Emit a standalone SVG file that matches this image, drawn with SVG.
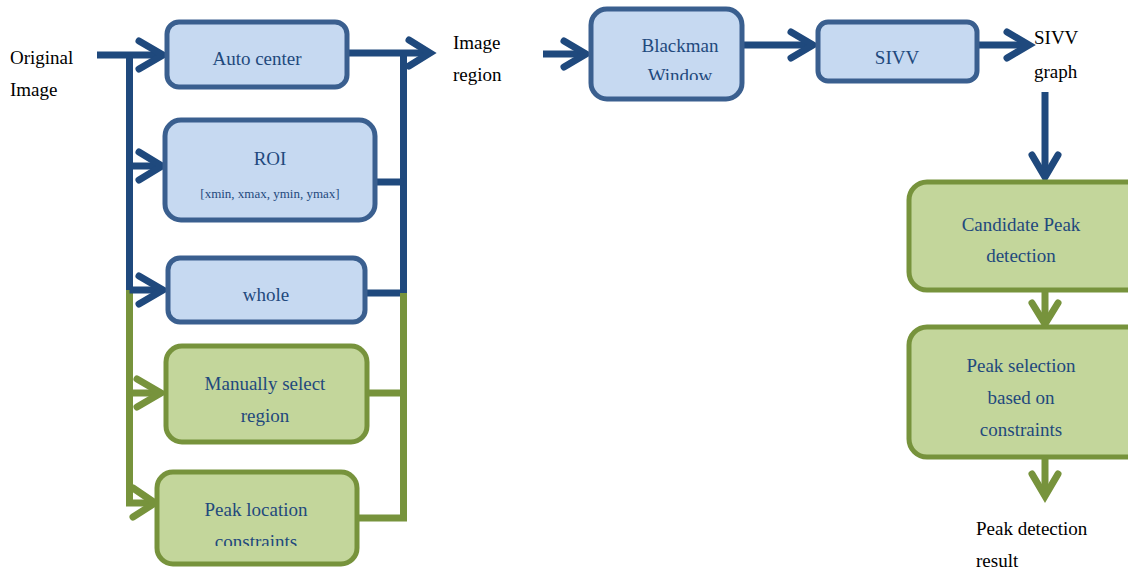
<svg xmlns="http://www.w3.org/2000/svg" width="1128" height="571" viewBox="0 0 1128 571" font-family="Liberation Serif, serif">
<style>
.bb{fill:#c6d9f1;stroke:#3a5f8f;stroke-width:5}
.gb{fill:#c3d69b;stroke:#77933c;stroke-width:5}
.t{font-size:19px;fill:#1f497d;text-anchor:middle}
.k{font-size:19px;fill:#000}
.s{font-size:13px;fill:#1f497d;text-anchor:middle}
.cb{fill:none;stroke:#1f497d;stroke-width:7}
.cg{fill:none;stroke:#77933c;stroke-width:7}
.hb{fill:none;stroke:#1f497d;stroke-width:7;stroke-linecap:round;stroke-linejoin:miter}
.hg{fill:none;stroke:#77933c;stroke-width:7;stroke-linecap:round;stroke-linejoin:miter}
</style>
<defs>
<clipPath id="c1"><rect x="157" y="472" width="200" height="74"/></clipPath>
<clipPath id="c2"><rect x="591" y="8" width="151" height="72"/></clipPath>
</defs>
<g id="connectors">
<path class="cb" d="M97 55H160"/>
<path class="cb" d="M129.5 55V290"/>
<path class="cg" d="M129.5 290V503H155"/>
<path class="cb" d="M129.5 166H160M129.5 290H162"/>
<path class="cg" d="M129.5 393H160"/>
<polyline class="hb" points="139,41 163,55 139,69"/>
<polyline class="hb" points="139,152 162,166 139,180"/>
<polyline class="hb" points="139,276 163,290 139,304"/>
<polyline class="hg" points="137,379 161,393 137,407"/>
<polyline class="hg" points="133,488 155,503 133,517"/>
<path class="cb" d="M347 53H430M403.5 53V293"/>
<path class="cb" d="M375 182H403.5M365 293H403.5"/>
<path class="cg" d="M403.5 293V518H357M367 393H403.5"/>
<polyline class="hb" points="409,40 430,53 409,66"/>
<path class="cb" d="M543 54H585"/>
<polyline class="hb" points="564,41 586,54 564,67"/>
<path class="cb" d="M742 45H812"/>
<polyline class="hb" points="791,32 813,45 791,58"/>
<path class="cb" d="M977 45H1028"/>
<polyline class="hb" points="1007,32 1029,45 1007,58"/>
<path class="cb" d="M1045 92V175"/>
<polyline class="hb" points="1032,155 1045,177 1058,155"/>
<path class="cg" d="M1045 290V322"/>
<polyline class="hg" points="1032,303 1045,324 1058,303"/>
<path class="cg" d="M1045 457V495"/>
<polyline class="hg" points="1032,474 1045,496 1058,474"/>
</g>
<g id="original-image"><text class="k" x="10" y="64">Original</text><text class="k" x="10" y="96">Image</text></g>
<g id="auto-center"><rect class="bb" x="167" y="22" width="180" height="65" rx="12"/><text class="t" x="257" y="65">Auto center</text></g>
<g id="roi"><rect class="bb" x="165" y="120" width="210" height="100" rx="16"/><text class="t" x="270" y="165">ROI</text><text class="s" x="270" y="198">[xmin, xmax, ymin, ymax]</text></g>
<g id="whole"><rect class="bb" x="168" y="258" width="197" height="64" rx="12"/><text class="t" x="266" y="301">whole</text></g>
<g id="manual"><rect class="gb" x="166" y="346" width="201" height="96" rx="16"/><text class="t" x="265" y="390">Manually select</text><text class="t" x="265" y="422">region</text></g>
<g id="peak-location"><rect class="gb" x="157" y="472" width="200" height="92" rx="16"/><text class="t" x="256" y="516">Peak location</text><text class="t" x="256" y="548" clip-path="url(#c1)">constraints</text></g>
<g id="image-region"><text class="k" x="453" y="49">Image</text><text class="k" x="453" y="81">region</text></g>
<g id="blackman"><rect class="bb" x="591" y="9" width="151" height="90" rx="16"/><text class="t" x="680" y="52">Blackman</text><text class="t" x="680" y="82" clip-path="url(#c2)">Window</text></g>
<g id="sivv"><rect class="bb" x="818" y="22" width="159" height="59" rx="10"/><text class="t" x="897" y="64">SIVV</text></g>
<g id="sivv-graph"><text class="k" x="1034" y="44">SIVV</text><text class="k" x="1034" y="78">graph</text></g>
<g id="candidate"><rect class="gb" x="909" y="182" width="240" height="108" rx="18"/><text class="t" x="1021" y="231">Candidate Peak</text><text class="t" x="1021" y="262">detection</text></g>
<g id="selection"><rect class="gb" x="909" y="327" width="240" height="130" rx="18"/><text class="t" x="1021" y="372">Peak selection</text><text class="t" x="1021" y="404">based on</text><text class="t" x="1021" y="436">constraints</text></g>
<g id="result"><text class="k" x="976" y="535">Peak detection</text><text class="k" x="976" y="567">result</text></g>
</svg>
